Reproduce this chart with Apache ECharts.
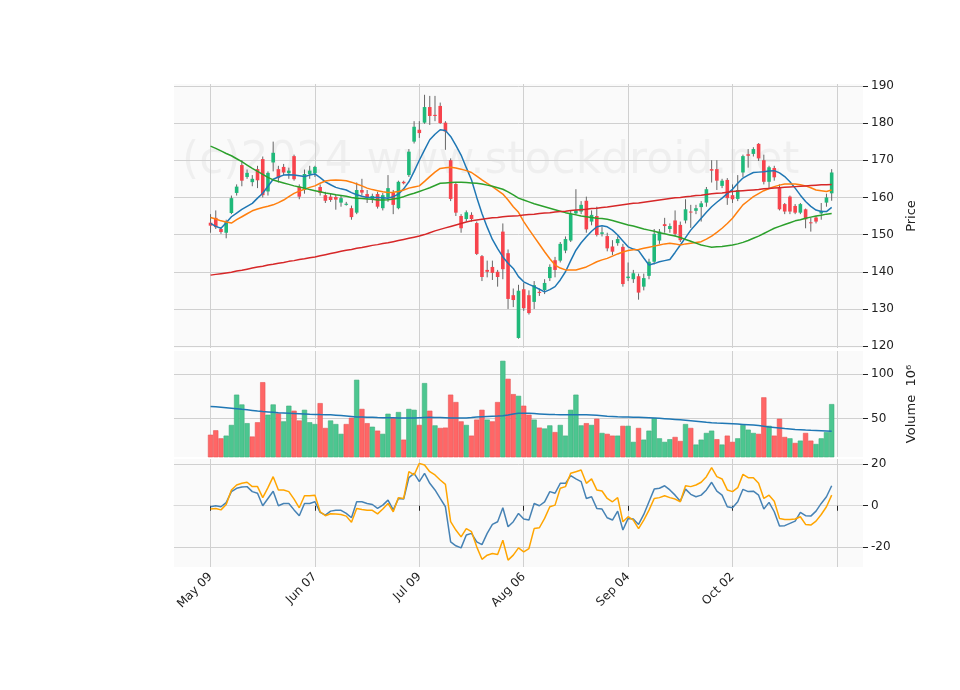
<!DOCTYPE html>
<html>
<head>
<meta charset="utf-8">
<title>stock chart</title>
<script src="https://cdn.jsdelivr.net/npm/echarts@6/dist/echarts.min.js"></script>
<style>
  html, body { margin: 0; padding: 0; background: #fff; }
  #main { width: 960px; height: 690px; }
</style>
</head>
<body>
<div id="main"></div>
<script>
// daily prices, 120 sessions starting 2024-05-09
var opens = [153.2,154.5,151.5,150.5,155.8,161.2,168.7,165.5,164.1,167.6,
  170.3,161.6,169.4,167.6,168.2,166.5,171.1,162.9,162,166.2,
  166.5,162.8,160.6,160.2,160.1,158.6,158,157.1,155.9,162,
  160.9,159.6,160.9,157.1,160,161.2,157.1,164.2,166,175,
  178.2,180.1,184.3,182.2,184.6,180.1,170,163.6,155,154.2,
  155.3,153.1,144.2,140.5,141.3,140,150.8,145,133.7,122.2,
  135.3,133.7,131.9,134.6,135.1,138.3,143.1,143,145.7,148.4,
  155.7,156.2,159.1,153.5,155,150.2,149.6,146.8,147.7,146.7,
  138.3,138,138.8,136,138.9,142.7,148.4,152.8,151.5,153.8,
  152.6,153.8,156.2,156.4,157.4,158.6,167.6,167.6,163.1,164.7,
  160.6,159.6,166.7,171.6,171.7,174.4,170,164.2,167.9,162.5,
  158.2,160.2,157.7,155.9,156.8,153.3,154.6,155.7,158.6,161.1];
var closes = [152.4,152,150.7,153.5,159.8,162.9,164.5,166.6,165,164.6,
  160.6,166.6,172,165.2,166.7,167.2,164.9,160.2,166.3,167.2,
  168.2,161.2,159.1,159.3,159.4,159.8,158.3,154.7,162,161.3,
  160,160.4,157.5,160.6,162.5,158,164.2,163.8,172.3,179,
  177.3,184.3,181.9,181.9,180,177.7,159.6,155.9,151.7,156,
  154.2,144.8,138.6,140,139.7,138.6,140.7,132.7,132.4,134.9,
  130.2,128.9,136.4,134.3,137,141.3,140.5,147.5,148.8,155.5,
  156.5,158,151.4,155.3,149.9,150.6,146.3,145.4,148.8,136.7,
  138.7,139.6,134.4,138.3,142.7,150.2,150.8,152.3,152.3,150.2,
  148.5,156.8,156,157.1,158.4,162.2,167.2,164.5,164.5,159.8,
  159.5,162,171.1,171.2,173,170.5,164.2,168.1,165.4,156.8,
  156.2,156.2,155.9,158.2,154.1,153.1,153.5,156.4,160,166.7];
var lows = [150.5,151.5,150.2,149,155.5,160.5,163,165,163,162.5,
  160,160.5,167,164,166,165,164.5,159.5,161,165,
  165.5,160.5,158.5,158.8,156.7,157.5,157.8,154,155.5,160.5,
  158.5,158.5,157,156.5,158.8,155.5,156.8,163.5,165.5,174.5,
  176,179.8,179.5,180.5,179.8,172.8,159,155,150.5,153.5,
  153.5,144.5,137.5,138.5,137.8,136,138,130,130.5,122,
  129.5,128.5,130,133.5,134,137.5,138.5,142.5,145,148,
  155.3,155.5,150.5,152.5,149.5,149.5,145.5,144.5,147,136,
  137.5,137,132.5,135,138,142,147.5,150.5,150.5,149.5,
  148,153,151.8,155.5,153.5,157.5,164,162,162.5,158,
  158.5,159,165.5,168,171,169.8,163.5,162.5,164.5,156.5,
  155.5,155.5,155.5,155.5,151.7,150.8,153,154,157.5,159.1];
var highs = [155.5,156.5,152,154,160.5,163.5,170,167.5,166,168.5,
  171,167,175,168.5,169,168,171.5,163.5,167.5,168.5,
  168.5,163.5,161.5,161,160.8,160.5,158.8,157.8,164,165,
  162,161,161.5,161.2,166,162,164.5,164.5,173,180.5,
  180.5,187.6,187.3,187.3,185.5,180.5,170.5,164,155.5,156.5,
  156,153.5,144.5,143,143,140.5,153,146,135.5,136.5,
  137,135,137.5,135.5,138,142,144,148,149.5,156.5,
  162.2,159,160.2,156.5,157.5,152,150.5,148.5,149.5,147.5,
  142.5,140.5,139.5,139.5,143.5,151.5,151.5,154.5,153,156.5,
  153.5,159.5,158,158,159,162.8,170,170,165,165.2,
  163.5,166,171.5,173,173.5,174.6,171.5,168.5,168.5,163.5,
  158.5,160.5,158.2,158.5,157,154.6,155,158.5,161,167.6];
var volumes = [32,37,28,31,43,77,66,45,30,46,
  91,54.5,66,56,47,64.6,59,48,60,46,
  44,67.5,39.6,48,44,33,44,51,93.7,61,
  45,41,36.6,33,55.6,50.7,57.5,26.5,61,60,
  43,90,59,42.5,39.6,40,77,68.7,47,43,
  31,49,60,49,47,68.7,115,94.8,77.6,75.7,
  64.6,54.5,49,40,39,42.5,35,43,31,60,
  77,42.5,45,43,50,34,33,31,31,42,
  42,24,39.6,26.5,36.6,50.7,28,24,27,29.5,
  25,44,39.6,21,26.5,34,36.6,27,21,31,
  24,28,43,37.7,34,33,74,42,31,50,
  29.5,28,22.8,25.4,34,25.4,21.6,28,35,66.4];
// moving averages
var ma1 = [153,152.2,151.7,153.2,154.8,155.8,156.8,157.6,158.4,159.8,
  161.1,163,164.9,165.5,166,166.1,166,165.8,165.6,166,
  166.3,165.3,164.2,163.4,162.7,162.3,162,161.3,160.7,160.3,
  160,160,160,159.9,159.8,160.2,160.9,162.3,164.2,167,
  170,172.8,175.5,177,178.2,178,176.4,174,171.4,168,
  164.7,160,155.7,152,148.7,146.2,144,142.3,140.9,138.7,
  137.3,136.6,136,135.3,134.6,135.2,136,137.8,140,143,
  145.8,147.8,149.4,150.9,152.1,152.4,152.1,151.2,149.9,148.3,
  146.7,146.1,145.7,143.7,141.8,142.2,142.7,143,143.3,145.2,
  147.2,149.2,151.2,152.8,154.4,156,157.5,158.7,159.8,161,
  162.2,163.8,165.2,166,166.7,166.8,166.9,167.1,167.2,166.6,
  165.6,164.2,162.5,160.6,158.9,157.6,156.6,156.2,156.2,157.3];
var ma2 = [154.6,154.2,153.7,153.4,153.1,154,154.8,155.6,156.4,156.9,
  157.3,157.6,158,158.6,159.3,160.2,161.1,161.7,162.2,162.7,
  163.1,163.8,164.4,164.6,164.7,164.6,164.5,164.1,163.6,163.1,
  162.5,162.1,161.8,161.5,161.3,161.4,161.6,162,162.5,162.8,
  163.1,164.3,165.6,166.8,167.8,168,168.1,167.9,167.6,167.2,
  166.7,165.7,164.7,163.8,162.9,161.9,160.9,159.3,157.5,156,
  153.5,151.4,149.4,147.4,145.4,143.5,141.8,141,140.5,140.5,
  140.5,140.9,141.3,142,142.7,143.2,143.6,144.2,144.8,145.3,
  145.7,145.9,146,146.3,146.6,146.9,147.2,147.5,147.7,147.5,
  147.2,147.5,147.7,147.9,148.1,148.8,149.6,150.6,151.7,153,
  154.4,156.2,158,159.1,160.2,161,161.8,162.4,162.9,163.3,
  163.6,163.6,163.6,163.4,163.1,162.6,162,161.8,161.6,162];
var ma3 = [173.8,173.2,172.5,171.8,171.2,170.4,169.6,168.7,167.8,167,
  166.2,165.4,164.7,164.3,163.9,163.5,163.1,162.8,162.5,162.1,
  161.8,161.5,161.2,161,160.7,160.5,160.3,160,159.8,159.7,
  159.6,159.5,159.3,159.3,159.4,159.6,159.8,160.2,160.7,161.1,
  161.6,162.1,162.6,163.2,163.8,163.9,164,164.1,164.1,164,
  163.9,163.8,163.6,163.3,163,162.6,162.2,161.5,160.7,159.8,
  159.3,158.8,158.3,157.9,157.5,157.1,156.7,156.3,155.9,155.6,
  155.3,155,154.8,154.6,154.4,154.3,154.1,153.8,153.4,153,
  152.6,152.3,151.9,151.5,151.2,150.9,150.5,150.2,149.9,149.6,
  149.2,148.7,148.2,147.7,147.2,146.9,146.6,146.7,146.8,147,
  147.2,147.5,147.9,148.4,149,149.6,150.3,151,151.7,152.2,
  152.7,153.2,153.7,154,154.4,154.7,155,155.2,155.5,155.7];
var ma4 = [139.1,139.3,139.5,139.7,139.9,140.2,140.4,140.7,141,141.3,
  141.5,141.8,142,142.3,142.5,142.8,143,143.3,143.5,143.8,
  144,144.3,144.6,144.9,145.2,145.5,145.8,146,146.3,146.5,
  146.8,147.1,147.3,147.6,147.8,148.1,148.4,148.7,149,149.3,
  149.6,150,150.5,151,151.4,151.8,152.2,152.6,153,153.4,
  153.7,153.9,154.1,154.3,154.5,154.6,154.8,154.9,155,155.1,
  155.3,155.4,155.5,155.7,155.8,155.9,156.1,156.2,156.3,156.5,
  156.6,156.7,156.8,157,157.1,157.3,157.4,157.6,157.8,158,
  158.2,158.4,158.5,158.7,158.9,159.1,159.3,159.5,159.7,159.9,
  160,160.2,160.3,160.5,160.6,160.8,161,161.1,161.2,161.4,
  161.6,161.7,161.8,161.9,162,162.1,162.3,162.4,162.5,162.6,
  162.7,162.8,162.9,163,163.1,163.2,163.3,163.4,163.4,163.5];
var volMa = [63.8,63.3,62.8,62.3,61.8,61.2,60.5,60,59.3,58.6,
  58,57.6,57.2,56.8,56.5,56.2,55.9,55.6,55.3,55,
  54.8,54.6,54.5,54.3,54,53.5,53,52.5,52,51.8,
  51.6,51.5,51.3,51.2,51.1,51,50.9,50.8,50.7,50.9,
  51.1,51.3,51.5,51.4,51.3,51.1,50.9,50.8,50.7,50.9,
  51.3,51.8,52.3,52.6,52.8,53,53.3,54.2,55.2,56.1,
  56.2,56,55.7,55.4,55.1,54.8,54.6,54.5,54.5,54.5,
  54.5,54.5,54.4,54.2,53.8,53.3,52.8,52.5,52.2,52,
  51.9,51.7,51.5,51.3,51,50.7,50.4,50,49.6,49.2,
  48.8,48.3,47.8,47.2,46.6,46,45.5,45.2,45,44.7,
  44.4,44,43.6,43.2,42.8,42.3,41.6,40.8,40.2,39.6,
  39,38.5,38,37.6,37.2,36.9,36.7,36.5,36.3,36];
// oscillator panel
var oscBlue = [-0.5,0,-0.5,1.5,6.8,8.4,9,9.2,6.8,6,
  0,3.5,7,0,1.1,1.1,-2,-4.8,1.1,1.1,
  1.9,-3.2,-4.5,-2.6,-2.2,-2.2,-3.7,-5.8,1.9,1.9,
  1.1,0.6,-1.3,0.3,2.7,-2,3.5,3.2,13.5,15.6,
  11.6,15.6,10.8,7.6,3.5,-0.5,-17.4,-19.3,-20.3,-14.1,
  -13.3,-17.4,-18.7,-13.3,-9,-7.7,-1,-10.1,-7.7,-3.7,
  -6.4,-6.9,1.1,0,1.9,6.8,6,10.8,10.8,14.5,
  12.9,11.6,3.5,4.3,-1.3,-1.6,-5.8,-6.9,-2.6,-11.7,
  -6.1,-6.4,-9,-4.2,1.9,8,8.4,9.6,7.6,5.1,
  2.2,8,5.5,4.3,5.1,7.6,11.3,7,5.1,-0.5,
  -1,1.9,7.9,6.8,7,5.1,-1.6,1.6,-2.9,-9.8,
  -9.6,-8.5,-7.4,-3.2,-4.8,-5,-2.6,1.1,4.3,9.6];
var oscOrange = [-1.6,-1.3,-2,0.6,7.6,10,10.8,11.3,9.2,9.2,
  3.9,8.7,14,7.6,7.6,6.8,3.2,-1,4.8,4.8,
  5.1,-2.9,-4.8,-3.9,-4,-4.2,-5,-8,-1.3,-1.8,
  -2.2,-2.2,-3.9,-1.6,1.1,-2.9,3.9,3.5,16.4,14.8,
  20.4,19.6,16.4,14.8,12.4,10.3,-7.7,-11.7,-15,-11,
  -12.5,-19.8,-25.8,-23.8,-23,-23.5,-16.6,-26.2,-23.8,-20.3,
  -22.2,-20.6,-11,-10.6,-6.1,-0.5,0.3,8.4,9.2,15.6,
  16.4,17.2,10.8,12.9,7.6,7.1,3.5,1.9,3.9,-7.7,
  -5.3,-6.9,-11,-6.9,-2.1,3.5,3.9,4.8,3.9,3.2,
  1.9,9.6,9.2,10,11.3,14,18.3,14,12.9,7.6,
  6.8,8.7,15.1,13.5,13.5,10.8,3.5,5.1,2.2,-6.1,
  -6.6,-6.6,-6.4,-5.3,-9,-9.3,-7.4,-4.2,-0.5,5.1];
var tickNames = ['May 09', 'Jun 07', 'Jul 09', 'Aug 06', 'Sep 04', 'Oct 02', ''];

var PAD_L = 7, PAD_R = 6;
var UP = '#1fb97a', DOWN = '#f7434c', WICK = '#666';
var VUP = '#4cc690', VDOWN = '#ff6666';

// trading day labels
var holidays = {'2024-05-27':1, '2024-06-19':1, '2024-07-04':1, '2024-09-02':1};
var dates = [];
var d = new Date(Date.UTC(2024, 4, 9));
while (dates.length < opens.length) {
  var key = d.toISOString().slice(0, 10);
  var wd = d.getUTCDay();
  if (wd !== 0 && wd !== 6 && !holidays[key]) dates.push(key);
  d.setUTCDate(d.getUTCDate() + 1);
}

var cats = [];
for (var i = 0; i < PAD_L; i++) cats.push('L' + i);
dates.forEach(function (x) { cats.push(x); });
for (var i = 0; i < PAD_R; i++) cats.push('R' + i);

function pad(arr) {
  var out = [];
  for (var i = 0; i < PAD_L; i++) out.push('-');
  arr.forEach(function (v) { out.push(v); });
  for (var i = 0; i < PAD_R; i++) out.push('-');
  return out;
}

// [index, open, close, low, high]
var candleData = opens.map(function (o, i) {
  return [i + PAD_L, o, closes[i], lows[i], highs[i]];
});
var volData = pad(volumes.map(function (v, i) {
  var up = i > 0 && closes[i] >= closes[i - 1];
  return {value: v, itemStyle: {color: up ? VUP : VDOWN, borderColor: up ? '#3fae7c' : '#e85555', borderWidth: 0.6}};
}));

function renderCandle(params, api) {
  var x = api.value(0);
  var o = api.coord([x, api.value(1)]);
  var c = api.coord([x, api.value(2)]);
  var lo = api.coord([x, api.value(3)]);
  var hi = api.coord([x, api.value(4)]);
  var up = api.value(2) >= api.value(1);
  var w = 3.6;
  var top = Math.min(o[1], c[1]);
  var h = Math.max(Math.abs(o[1] - c[1]), 1);
  return {
    type: 'group',
    children: [
      {type: 'line', shape: {x1: hi[0], y1: hi[1], x2: lo[0], y2: lo[1]}, style: {stroke: WICK, lineWidth: 1}},
      {type: 'rect', shape: {x: o[0] - w / 2, y: top, width: w, height: h}, style: {fill: up ? UP : DOWN}}
    ]
  };
}

function isTick(idx) {
  var k = idx - PAD_L;
  return k >= 0 && k % 20 === 0 && k / 20 < tickNames.length;
}

var grids = [
  {left: 174, right: 97, top: 84, height: 264},
  {left: 174, right: 97, top: 351, height: 106},
  {left: 174, right: 97, top: 459, height: 108}
];
grids.forEach(function (g) {
  g.show = true; g.backgroundColor = '#fafafa'; g.borderWidth = 0;
});

function xAxis(gi, last) {
  return {
    type: 'category', gridIndex: gi, data: cats, boundaryGap: false,
    axisLine: {show: last, lineStyle: {color: '#d9d9d9'}},
    axisTick: {show: last, interval: function (i) { return isTick(i); }, length: 5, lineStyle: {color: '#222'}},
    axisLabel: {
      show: last, rotate: 45, interval: function (i) { return isTick(i); },
      color: '#222', fontSize: 12, fontFamily: 'DejaVu Sans', margin: 8,
      formatter: function (v, i) { return isTick(i) ? tickNames[(i - PAD_L) / 20] : ''; }
    },
    splitLine: {show: true, interval: function (i) { return isTick(i); }, lineStyle: {color: '#d0d0d0', width: 1}}
  };
}

function yAxis(gi, min, max, vals, name, nameGap) {
  return {
    type: 'value', gridIndex: gi, position: 'right', min: min, max: max,
    name: name, nameLocation: 'middle', nameGap: nameGap, nameRotate: 90,
    nameTextStyle: {color: '#222', fontSize: 13, fontFamily: 'DejaVu Sans'},
    axisLine: {show: false},
    axisTick: {show: true, customValues: vals, length: 5, lineStyle: {color: '#222'}},
    axisLabel: {customValues: vals, color: '#222', fontSize: 12, fontFamily: 'DejaVu Sans', margin: 8},
    splitLine: {show: true, lineStyle: {color: '#d0d0d0', width: 1}}
  };
}

function line(data, color, xi, width) {
  return {
    type: 'line', xAxisIndex: xi, yAxisIndex: xi, data: pad(data), symbol: 'none',
    lineStyle: {color: color, width: width || 1.5}, silent: true, z: 3
  };
}

var chart = echarts.init(document.getElementById('main'), null, {renderer: 'canvas'});
chart.setOption({
  backgroundColor: '#fff',
  animation: false,
  grid: grids,
  graphic: [{
    type: 'text', left: 182, top: 140, z: 0, silent: true,
    style: {text: '(c)2024 www.stockdroid.net', fontSize: 44, fontFamily: 'DejaVu Sans', fill: 'rgba(0,0,0,0.045)'}
  }],
  xAxis: [xAxis(0, false), xAxis(1, false), xAxis(2, true)],
  yAxis: [
    yAxis(0, 119.5, 190.5, [120, 130, 140, 150, 160, 170, 180, 190], 'Price', 40),
    yAxis(1, 7, 126, [50, 100], 'Volume  10\u2076', 40),
    yAxis(2, -29.5, 22.5, [-20, 0, 20], '', 40)
  ],
  series: [
    {
      type: 'custom', xAxisIndex: 0, yAxisIndex: 0, data: candleData,
      renderItem: renderCandle, encode: {x: 0, y: [1, 2, 3, 4]}, z: 2, silent: true
    },
    line(ma1, '#1f77b4', 0), line(ma2, '#ff7f0e', 0), line(ma3, '#2ca02c', 0), line(ma4, '#d62728', 0),
    {type: 'bar', xAxisIndex: 1, yAxisIndex: 1, data: volData, barWidth: 5.2, barGap: '0%'},
    line(volMa, '#1f77b4', 1),
    line(oscBlue, '#4682b4', 2), line(oscOrange, '#ffa500', 2)
  ]
});
</script>
</body>
</html>
